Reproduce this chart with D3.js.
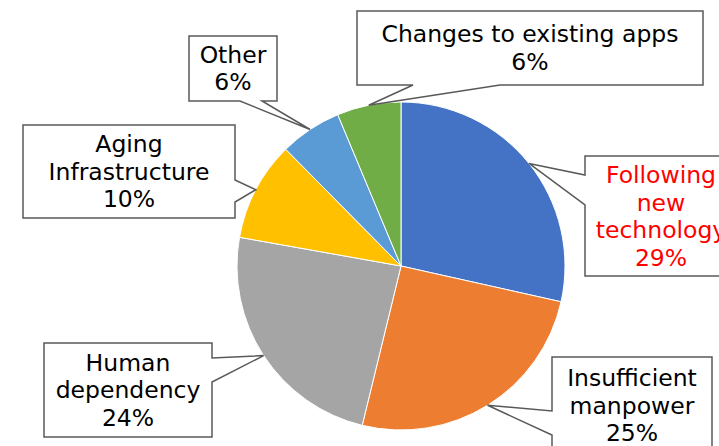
<!doctype html>
<html lang="en">
<head>
    <meta charset="utf-8">
    <title>Pie chart</title>
    <script src="https://d3js.org/d3.v7.min.js"></script>
    <style>
        body { margin: 0; background: #fff; }
        svg text {
            font-family: "DejaVu Sans", sans-serif;
            font-size: 23.5px;
            text-anchor: middle;
        }
    </style>
</head>
<body>
<div id="chart"></div>
<script>
    // Data (clockwise from 12 o'clock)
    var categories = ["Following new technology", "Insufficient manpower", "Human dependency",
                      "Aging Infrastructure", "Other", "Changes to existing apps"];
    var values     = [28.5, 25.3, 24.0, 9.8, 6.1, 6.3];
    var pctLabels  = ["29%", "25%", "24%", "10%", "6%", "6%"];
    var labelLines = [["Following", "new", "technology"], ["Insufficient", "manpower"], ["Human", "dependency"],
                      ["Aging", "Infrastructure"], ["Other"], ["Changes to existing apps"]];
    var colors     = ["#4472C4", "#ED7D31", "#A5A5A5", "#FFC000", "#5B9BD5", "#70AD47"];

    var width = 719, height = 446;
    var cx = 401, cy = 266, radius = 164;

    // Callout boxes: x, y, w, h, side the pointer leaves from, two base points along that side
    var boxes = [
        { x: 585, y: 156, w: 150, h: 120, side: "left",   b: [175, 205], color: "red", tx: 661, ty: 175 },
        { x: 552, y: 357, w: 160, h: 100, side: "left",   b: [411, 435], color: "#000", tx: 632, ty: 378 },
        { x: 44,  y: 343, w: 168, h: 94,  side: "right",  b: [358, 382], color: "#000" },
        { x: 23,  y: 125, w: 212, h: 93,  side: "right",  b: [180, 202], color: "#000" },
        { x: 189, y: 36,  w: 88,  h: 65,  side: "bottom", b: [240, 262], color: "#000" },
        { x: 357, y: 11,  w: 346, h: 74,  side: "bottom", b: [413, 500], color: "#000" }
    ];

    var svg = d3.select("#chart").append("svg")
        .attr("width", width)
        .attr("height", height);

    var pie = d3.pie().sort(null).value(function(d) { return d; });
    var arcs = pie(values);

    var arc = d3.arc().innerRadius(0).outerRadius(radius);
    var edge = d3.arc().innerRadius(radius).outerRadius(radius);

    var g = svg.append("g").attr("transform", "translate(" + cx + "," + cy + ")");

    g.selectAll("path")
        .data(arcs)
        .enter()
        .append("path")
        .attr("d", arc)
        .attr("fill", function(d, i) { return colors[i]; })
        .attr("stroke", "#fff")
        .attr("stroke-width", 1);

    // Build callout outline with a pointer to the slice edge
    function calloutPath(bx, tip) {
        var x0 = bx.x, y0 = bx.y, x1 = bx.x + bx.w, y1 = bx.y + bx.h;
        var p = [];
        if (bx.side == "left") {
            p = [[x0, y0], [x1, y0], [x1, y1], [x0, y1], [x0, bx.b[1]], tip, [x0, bx.b[0]]];
        } else if (bx.side == "right") {
            p = [[x0, y0], [x1, y0], [x1, bx.b[0]], tip, [x1, bx.b[1]], [x1, y1], [x0, y1]];
        } else {
            p = [[x0, y0], [x1, y0], [x1, y1], [bx.b[1], y1], tip, [bx.b[0], y1], [x0, y1]];
        }
        return "M" + p.map(function(q) { return q[0] + "," + q[1]; }).join("L") + "Z";
    }

    var lineH = 27.5;

    arcs.forEach(function(d, i) {
        var c = edge.centroid(d);
        var tip = [cx + c[0], cy + c[1]];
        var bx = boxes[i];

        svg.append("path")
            .attr("d", calloutPath(bx, tip))
            .attr("fill", "#fff")
            .attr("stroke", "#595959")
            .attr("stroke-width", 1.5);

        var lines = labelLines[i].concat([pctLabels[i]]);
        var midX = bx.tx || bx.x + bx.w / 2;
        var startY = bx.ty || bx.y + bx.h / 2 - (lines.length - 1) * lineH / 2;

        var t = svg.append("text").attr("fill", bx.color);
        lines.forEach(function(s, k) {
            t.append("tspan")
                .attr("x", midX)
                .attr("y", startY + k * lineH)
                .attr("dy", ".35em")
                .text(s);
        });
    });
</script>
</body>
</html>
